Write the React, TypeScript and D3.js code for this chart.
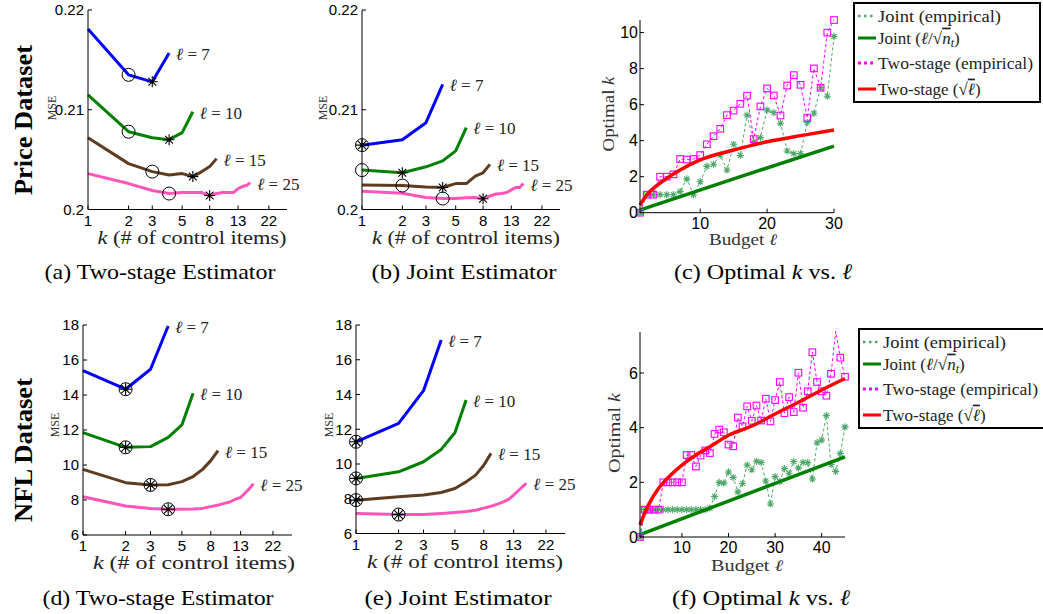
import React from 'react';
import * as d3 from 'd3';

// ---- values ----
const kTicks = [1, 2, 3, 5, 8, 13, 22];
const budgets = [7, 10, 15, 25];
const priceMseTicks = [0.2, 0.21, 0.22];
const nflMseTicks = [6, 8, 10, 12, 14, 16, 18];

// MSE vs k (k = 1, 2, 3, ...), price dataset, two-stage estimator
const priceTwoStage7 = [0.2181, 0.2135, 0.2128, 0.2157];
const priceTwoStage10 = [0.2115, 0.2078, 0.2072, 0.207, 0.2077, 0.2098];
const priceTwoStage15 = [0.2072, 0.2046, 0.2038, 0.20345, 0.2036, 0.2033, 0.2038, 0.2043, 0.2051];
const priceTwoStage25 = [0.2036, 0.2026, 0.2019, 0.2016, 0.2017, 0.2017, 0.2017, 0.2014, 0.2016, 0.2017, 0.2017, 0.2017, 0.2021, 0.2023, 0.2024, 0.2027];
const priceTwoStageCircleK = [2, 2, 3, 4];
const priceTwoStageStarK = [3, 4, 6, 8];

// price dataset, joint estimator
const priceJoint7 = [0.20645, 0.207, 0.2087, 0.21255];
const priceJoint10 = [0.20395, 0.20368, 0.20428, 0.20488, 0.20588, 0.20822];
const priceJoint15 = [0.20245, 0.2024, 0.20225, 0.2022, 0.2026, 0.2026, 0.20335, 0.20368, 0.20452];
const priceJoint25 = [0.20182, 0.20162, 0.2012, 0.2011, 0.2011, 0.20118, 0.2012, 0.20108, 0.20135, 0.20155, 0.2016, 0.2017, 0.20197, 0.2022, 0.2022, 0.2026];
const priceJointCircleK = [1, 1, 2, 4];
const priceJointStarK = [1, 2, 4, 8];

// NFL dataset, two-stage estimator
const nflTwoStage7 = [15.39, 14.33, 15.47, 17.94];
const nflTwoStage10 = [11.85, 11.01, 11.05, 11.58, 12.29, 14.1];
const nflTwoStage15 = [9.75, 8.99, 8.86, 8.87, 9.05, 9.34, 9.75, 10.25, 10.82];
const nflTwoStage25 = [8.19, 7.66, 7.52, 7.47, 7.47, 7.49, 7.52, 7.62, 7.71, 7.81, 7.9, 8.05, 8.14, 8.4, 8.65, 8.93];
const nflTwoStageBestK = [2, 2, 3, 4];

// NFL dataset, joint estimator
const nflJoint7 = [11.28, 12.34, 14.22, 17.13];
const nflJoint10 = [9.17, 9.55, 10.13, 10.84, 11.8, 13.68];
const nflJoint15 = [7.92, 8.11, 8.21, 8.36, 8.59, 8.97, 9.36, 9.93, 10.61];
const nflJoint25 = [7.15, 7.09, 7.09, 7.15, 7.21, 7.26, 7.34, 7.46, 7.57, 7.69, 7.82, 7.96, 8.21, 8.46, 8.69, 8.88];
const nflJointBestK = [1, 1, 1, 2];

// optimal k vs budget (budget = 1, 2, 3, ...)
const priceJointEmp = [0, 1, 1, 1, 1, 1, 1.17, 1.88, 1, 1.72, 2.57, 2.69, 3.2, 2.37, 3.8, 3.18, 5.42, 3.94, 4.17, 5.7, 5.56, 4.97, 3.43, 3.28, 3.28, 5.01, 5.52, 6.94, 6.47, 9.79];
const priceTwoStageEmp = [0, 1, 1, 2, 2, 2.13, 2.98, 2.95, 2.98, 3.2, 3.8, 4.25, 4.66, 5.42, 5.67, 6.05, 6.5, 4.09, 5.9, 6.9, 6.51, 5.4, 7.06, 7.64, 7.1, 5.26, 8.01, 6.94, 10.0, 10.7];
const priceJointTheoryL = [1, 15, 30];
const priceJointTheory = [0.15, 1.88, 3.7];
const priceTwoStageTheoryL = [1, 2, 3, 5, 7, 10, 15, 20, 25, 30];
const priceTwoStageTheory = [0.43, 0.98, 1.35, 1.91, 2.37, 2.93, 3.48, 3.94, 4.28, 4.59];

const nflJointEmp = [0, 1, 1, 1, 1, 1, 1, 1, 1, 1, 1, 1, 1, 1, 1, 1.06, 1.48, 2.0, 1.97, 2.38, 2.18, 1.65, 1.96, 2.63, 2.46, 2.77, 2.73, 2.05, 1.21, 2.21, 2.03, 2.5, 2.33, 2.76, 2.53, 2.73, 2.72, 2.12, 3.45, 3.55, 4.44, 2.65, 2.4, 3.06, 4.03];
const nflTwoStageEmp = [0, 1, 1, 1, 1, 2, 2, 2, 2, 2, 3, 3, 2.58, 2.98, 3.17, 3.07, 3.77, 3.93, 3.83, 3.38, 3.32, 4.37, 4.05, 4.78, 4.25, 4.81, 4.26, 5.06, 4.23, 5.01, 5.67, 4.53, 5.12, 4.57, 6.01, 4.73, 5.33, 6.76, 5.67, 5.33, 5.17, 5.97, 7.52, 6.56, 5.86];
const nflJointTheoryL = [1, 45];
const nflJointTheory = [0.085, 2.93];
const nflTwoStageTheoryL = [1, 2, 3, 5, 8, 10, 13, 16, 20, 25, 30, 35, 40, 45];
const nflTwoStageTheory = [0.44, 0.87, 1.23, 1.78, 2.33, 2.63, 3.0, 3.3, 3.72, 4.06, 4.5, 4.93, 5.38, 5.8];

const curveColors = ['#0000ff', '#008000', '#5e3c22', '#ff55b8'];
const serif = '"Liberation Serif", "Times New Roman", serif';
const sans = '"Liberation Sans", Arial, sans-serif';
const empGreen = '#4fa86a';
const magenta = '#ff00ff';

function Asterisk({ cx, cy, r, color, sw }: any) {
  const d = [0, 45, 90, 135]
    .map(a => {
      const t = (a * Math.PI) / 180;
      const dx = r * Math.cos(t), dy = r * Math.sin(t);
      return `M${cx - dx},${cy - dy}L${cx + dx},${cy + dy}`;
    })
    .join('');
  return <path d={d} stroke={color} strokeWidth={sw} fill="none" />;
}

function MsePanel(p: any) {
  const x = d3.scaleLog().domain([1, 30]).range([p.left, p.right]);
  const y = d3.scaleLinear().domain(p.yDomain).range([p.bottom, p.top]);
  const line = d3.line<number>().x((d, i) => x(i + 1)).y(d => y(d));
  return (
    <g>
      {p.series.map((s: number[], i: number) => (
        <path key={i} d={line(s) || ''} fill="none" stroke={curveColors[i]} strokeWidth={3} strokeLinejoin="round" />
      ))}
      {p.series.map((s: number[], i: number) => {
        const ck = p.circleK[i], sk = p.starK[i];
        const same = ck === sk;
        return (
          <g key={'m' + i}>
            <circle cx={x(ck)} cy={y(s[ck - 1])} r={6.5} fill="none" stroke="#000" strokeWidth={1} />
            <Asterisk cx={x(sk)} cy={y(s[sk - 1])} r={same ? 6 : 5.5} color="#000" sw={1.1} />
            {same && <circle cx={x(sk)} cy={y(s[sk - 1])} r={1.6} fill="#000" />}
          </g>
        );
      })}
      {p.series.map((s: number[], i: number) => (
        <text key={'l' + i} x={x(s.length) + 7} y={y(s[s.length - 1]) + 1} dy="0.35em" fontSize={17} fill="#222">
          <tspan fontStyle="italic">ℓ</tspan> = {budgets[i]}
        </text>
      ))}
      <path d={`M${p.left},${p.top}V${p.bottom}H${p.right}`} fill="none" stroke="#000" strokeWidth={1} />
      {p.yTicks.map((t: number) => (
        <g key={'y' + t}>
          <line x1={p.left} x2={p.left + 4} y1={y(t)} y2={y(t)} stroke="#000" />
          <text x={p.left - 4} y={y(t)} dy="0.36em" textAnchor="end" fontFamily={sans} fontSize={15}>{String(t)}</text>
        </g>
      ))}
      {kTicks.map(t => (
        <g key={'x' + t}>
          <line x1={x(t)} x2={x(t)} y1={p.bottom} y2={p.bottom - 4} stroke="#000" />
          <text x={x(t)} y={p.bottom + 16} textAnchor="middle" fontFamily={sans} fontSize={15}>{t}</text>
        </g>
      ))}
      <text transform={`translate(${p.mseX},${p.mseY}) rotate(-90)`} textAnchor="middle" fontSize={12} fill="#333">MSE</text>
      <text x={p.xLabelX} y={p.bottom + 34} textAnchor="middle" fontSize={19} textLength={p.xLabelLen} lengthAdjust="spacingAndGlyphs" fill="#222">
        <tspan fontStyle="italic">k</tspan> (# of control items)
      </text>
      <text x={p.captionX} y={p.captionY} textAnchor="middle" fontSize={22} textLength={p.captionLen} lengthAdjust="spacingAndGlyphs">
        {p.caption}
      </text>
    </g>
  );
}

function Legend({ left, top }: any) {
  const rows = [13, 35, 60, 86];
  const lx0 = left + 4, lx1 = left + 22, tx = left + 24;
  return (
    <g fontSize={17} fill="#222">
      <rect x={left} y={top} width={186} height={99} fill="#fff" stroke="#000" strokeWidth={2} />
      <line x1={lx0} x2={lx1} y1={top + rows[0]} y2={top + rows[0]} stroke={empGreen} strokeWidth={2.5} strokeDasharray="2.5,3.5" />
      <text x={tx} y={top + rows[0]} dy="0.33em" textLength={123} lengthAdjust="spacingAndGlyphs">Joint (empirical)</text>
      <line x1={lx0} x2={lx1} y1={top + rows[1]} y2={top + rows[1]} stroke="#008000" strokeWidth={3} />
      <text x={tx} y={top + rows[1]} dy="0.33em">
        Joint (<tspan fontStyle="italic">ℓ</tspan>/√<tspan fontStyle="italic" style={{ textDecoration: 'overline' }}>n</tspan><tspan fontStyle="italic" fontSize={12} dy="3">t</tspan><tspan dy="-3">)</tspan>
      </text>
      <line x1={lx0} x2={lx1} y1={top + rows[2]} y2={top + rows[2]} stroke={magenta} strokeWidth={3} strokeDasharray="3,3" />
      <text x={tx} y={top + rows[2]} dy="0.33em" textLength={155} lengthAdjust="spacingAndGlyphs">Two-stage (empirical)</text>
      <line x1={lx0} x2={lx1} y1={top + rows[3]} y2={top + rows[3]} stroke="#ff0000" strokeWidth={3} />
      <text x={tx} y={top + rows[3]} dy="0.33em">
        Two-stage (√<tspan fontStyle="italic" style={{ textDecoration: 'overline' }}>ℓ</tspan>)
      </text>
    </g>
  );
}

function KPanel(p: any) {
  const x = d3.scaleLinear().domain([1, p.xMax]).range([p.left, p.right]);
  const y = d3.scaleLinear().domain([0, p.yMax]).range([p.bottom, p.top]);
  const empLine = d3.line<number>().x((d, i) => x(i + 1)).y(d => y(d));
  const theoryLine = (ls: number[], vs: number[]) =>
    d3.line<number>().x(d => x(d)).y((d, i) => y(vs[i])).curve(d3.curveMonotoneX)(ls) || '';
  return (
    <g>
      <path d={empLine(p.jointEmp) || ''} fill="none" stroke={empGreen} strokeWidth={1} strokeDasharray="3,2.5" />
      {p.jointEmp.map((v: number, i: number) => (
        <Asterisk key={'s' + i} cx={x(i + 1)} cy={y(v)} r={3.6} color={empGreen} sw={1.1} />
      ))}
      <path d={theoryLine(p.jointTheoryL, p.jointTheory)} fill="none" stroke="#008000" strokeWidth={3.5} />
      <path d={empLine(p.twoEmp) || ''} fill="none" stroke={magenta} strokeWidth={1} strokeDasharray="3,2.5" />
      {p.twoEmp.map((v: number, i: number) =>
        y(v) < p.top ? null : (
          <rect key={'q' + i} x={x(i + 1) - 3.3} y={y(v) - 3.3} width={6.6} height={6.6} fill="none" stroke={magenta} strokeWidth={1.1} />
        )
      )}
      <path d={theoryLine(p.twoTheoryL, p.twoTheory)} fill="none" stroke="#ff0000" strokeWidth={3.5} />
      <path d={`M${p.left},${p.top}V${p.bottom}H${p.right}`} fill="none" stroke="#000" strokeWidth={1} />
      {p.yTicks.map((t: number) => (
        <g key={'y' + t}>
          <line x1={p.left} x2={p.left + 4} y1={y(t)} y2={y(t)} stroke="#000" />
          <text x={p.left - 2} y={y(t)} dy="0.36em" textAnchor="end" fontFamily={sans} fontSize={16}>{t}</text>
        </g>
      ))}
      {p.xTicks.map((t: number) => (
        <g key={'x' + t}>
          <line x1={x(t)} x2={x(t)} y1={p.bottom} y2={p.bottom - 4} stroke="#000" />
          <text x={x(t)} y={p.bottom + 16} textAnchor="middle" fontFamily={sans} fontSize={16}>{t}</text>
        </g>
      ))}
      <text transform={`translate(${p.yLabelX},${p.yLabelY}) rotate(-90)`} textAnchor="middle" fontSize={17} textLength={p.yLabelLen} lengthAdjust="spacingAndGlyphs" fill="#333">
        Optimal <tspan fontStyle="italic">k</tspan>
      </text>
      <text x={p.xLabelX} y={p.xLabelY} textAnchor="middle" fontSize={16} fill="#333" textLength={p.xLabelLen} lengthAdjust="spacingAndGlyphs">
        Budget <tspan fontStyle="italic">ℓ</tspan>
      </text>
      <text x={p.captionX} y={p.captionY} textAnchor="middle" fontSize={22} textLength={178} lengthAdjust="spacingAndGlyphs">
        {p.caption} Optimal <tspan fontStyle="italic">k</tspan> vs. <tspan fontStyle="italic">ℓ</tspan>
      </text>
      <Legend left={p.legendX} top={p.legendY} />
    </g>
  );
}

export default function App() {
  return (
    <svg width={1043} height={614} fontFamily={serif} style={{ position: 'absolute', left: 0, top: 0, background: '#fff' }}>
      <text transform="translate(32,120) rotate(-90)" textAnchor="middle" fontWeight="bold" fontSize={26} textLength={150} lengthAdjust="spacingAndGlyphs">Price Dataset</text>
      <text transform="translate(32,450) rotate(-90)" textAnchor="middle" fontWeight="bold" fontSize={26} textLength={144} lengthAdjust="spacingAndGlyphs">NFL Dataset</text>

      <MsePanel
        left={88} right={287} top={10} bottom={209.5} yDomain={[0.2, 0.22]} yTicks={priceMseTicks}
        series={[priceTwoStage7, priceTwoStage10, priceTwoStage15, priceTwoStage25]}
        circleK={priceTwoStageCircleK} starK={priceTwoStageStarK}
        mseX={56} mseY={108} xLabelX={192} xLabelLen={189}
        caption="(a) Two-stage Estimator" captionX={160} captionY={279} captionLen={231}
      />
      <MsePanel
        left={362} right={560} top={10} bottom={209.5} yDomain={[0.2, 0.22]} yTicks={priceMseTicks}
        series={[priceJoint7, priceJoint10, priceJoint15, priceJoint25]}
        circleK={priceJointCircleK} starK={priceJointStarK}
        mseX={327} mseY={108} xLabelX={466} xLabelLen={188}
        caption="(b) Joint Estimator" captionX={464} captionY={279} captionLen={185}
      />
      <MsePanel
        left={83} right={292} top={325} bottom={535} yDomain={[6, 18]} yTicks={nflMseTicks}
        series={[nflTwoStage7, nflTwoStage10, nflTwoStage15, nflTwoStage25]}
        circleK={nflTwoStageBestK} starK={nflTwoStageBestK}
        mseX={59} mseY={425} xLabelX={194} xLabelLen={202}
        caption="(d) Two-stage Estimator" captionX={158} captionY={605} captionLen={231}
      />
      <MsePanel
        left={356} right={565} top={325} bottom={533.5} yDomain={[6, 18]} yTicks={nflMseTicks}
        series={[nflJoint7, nflJoint10, nflJoint15, nflJoint25]}
        circleK={nflJointBestK} starK={nflJointBestK}
        mseX={333} mseY={425} xLabelX={465} xLabelLen={196}
        caption="(e) Joint Estimator" captionX={458} captionY={605} captionLen={187}
      />

      <KPanel
        left={640} right={834} top={20} bottom={212.7} xMax={30} yMax={10.7}
        xTicks={[10, 20, 30]} yTicks={[0, 2, 4, 6, 8, 10]}
        jointEmp={priceJointEmp} twoEmp={priceTwoStageEmp}
        jointTheoryL={priceJointTheoryL} jointTheory={priceJointTheory}
        twoTheoryL={priceTwoStageTheoryL} twoTheory={priceTwoStageTheory}
        yLabelX={614} yLabelY={114} yLabelLen={75} xLabelX={743} xLabelY={245} xLabelLen={68}
        caption="(c)" captionX={763} captionY={279}
        legendX={854} legendY={3}
      />
      <KPanel
        left={640} right={845} top={332} bottom={537} xMax={45} yMax={7.5}
        xTicks={[10, 20, 30, 40]} yTicks={[0, 2, 4, 6]}
        jointEmp={nflJointEmp} twoEmp={nflTwoStageEmp}
        jointTheoryL={nflJointTheoryL} jointTheory={nflJointTheory}
        twoTheoryL={nflTwoStageTheoryL} twoTheory={nflTwoStageTheory}
        yLabelX={620} yLabelY={433} yLabelLen={80} xLabelX={747} xLabelY={571} xLabelLen={72}
        caption="(f)" captionX={761} captionY={605}
        legendX={859} legendY={329}
      />
    </svg>
  );
}
